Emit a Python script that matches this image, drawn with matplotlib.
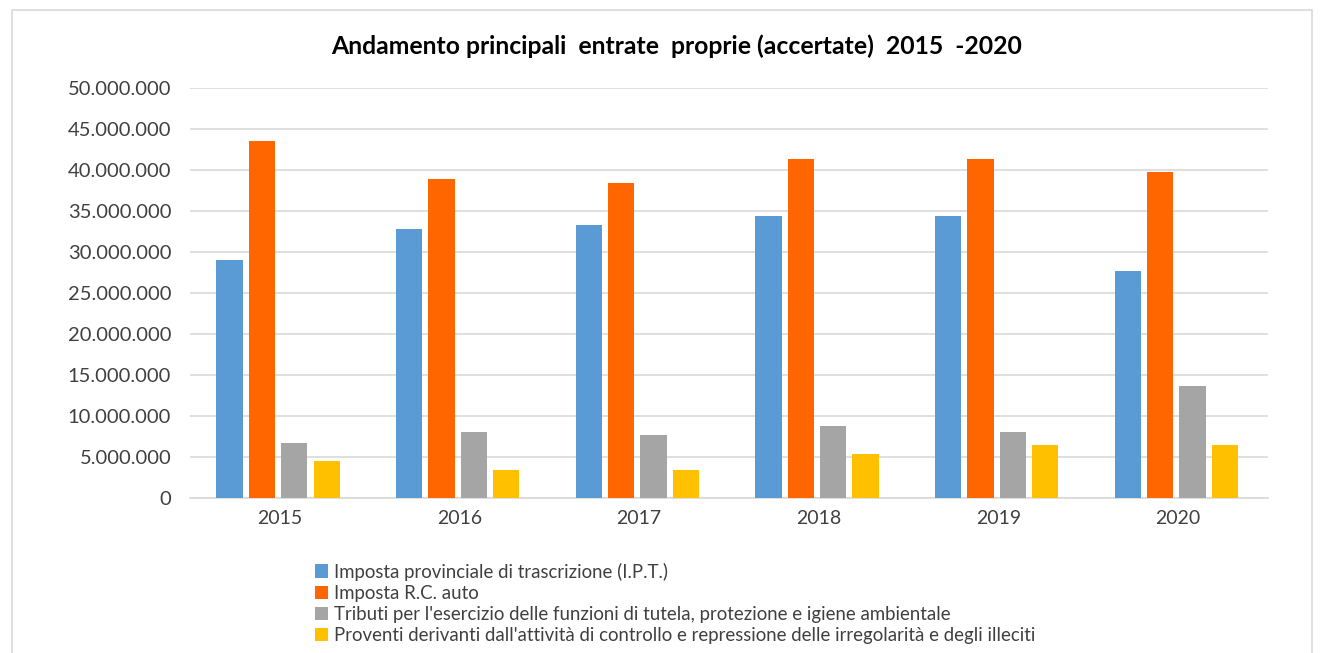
import numpy as np
import matplotlib.pyplot as plt
from matplotlib.patches import Rectangle
from matplotlib.ticker import FuncFormatter

plt.rcParams['font.family'] = ['Lato', 'DejaVu Sans']

# dati
anni = ["2015", "2016", "2017", "2018", "2019", "2020"]
serie = [
    "Imposta provinciale di trascrizione (I.P.T.)",
    "Imposta R.C. auto",
    "Tributi per l'esercizio delle funzioni di tutela, protezione e igiene ambientale",
    "Proventi derivanti dall'attività di controllo e repressione delle irregolarità e degli illeciti",
]
ipt = [29060000, 32860000, 33300000, 34400000, 34400000, 27700000]
rc_auto = [43550000, 38870000, 38460000, 41300000, 41300000, 39800000]
tributi = [6740000, 8090000, 7640000, 8790000, 8090000, 13650000]
proventi = [4500000, 3430000, 3430000, 5400000, 6500000, 6500000]
colori = ["#5B9BD5", "#FF6600", "#A5A5A5", "#FFC000"]

fig = plt.figure(figsize=(13.23, 6.53), dpi=100)
ax = fig.add_axes([0.1436, 0.2374, 0.8148, 0.6278])

x = np.arange(len(anni))
step = 0.18
w = 0.145
for i, (vals, lab, c) in enumerate(zip([ipt, rc_auto, tributi, proventi], serie, colori)):
    ax.bar(x + (i - 1.5) * step - 0.01, vals, width=w, color=c, label=lab, zorder=3)

ax.set_xlim(-0.5, len(anni) - 0.5)
ax.set_ylim(0, 50000000)
ax.set_yticks(np.arange(0, 50000001, 5000000))
ax.yaxis.set_major_formatter(FuncFormatter(lambda v, p: "0" if v == 0 else f"{int(v):,}".replace(",", ".")))
ax.set_xticks(x)
ax.set_xticklabels(anni)
ax.tick_params(length=0, labelsize=14, colors="#404040")
ax.tick_params(axis="x", pad=9)
ax.tick_params(axis="y", pad=13.5, labelsize=14.5)
ax.grid(axis="y", color="#D9D9D9", linewidth=1.2, zorder=0)
for s in ["top", "right", "left"]:
    ax.spines[s].set_visible(False)
ax.spines["bottom"].set_color("#D9D9D9")
ax.spines["bottom"].set_linewidth(1.2)

fig.text(0.5 + 15 / 1323, 1 - 46 / 653, "Andamento principali  entrate  proprie (accertate)  2015  -2020",
         ha="center", va="center", fontsize=17.8, fontweight="bold", color="#000000")

fig.legend(loc="upper left", bbox_to_anchor=(308 / 1323, 1 - 555 / 653), frameon=False,
           fontsize=13.4, handlelength=0.7, handleheight=0.7, handletextpad=0.3,
           labelspacing=0.22, borderaxespad=0, labelcolor="#404040")

# cornice
fig.add_artist(Rectangle((12 / 1323, -0.01), 1300 / 1323, 1 - 10 / 653 + 0.01,
                         transform=fig.transFigure, fill=False, edgecolor="#D9D9D9", linewidth=1.2))

plt.savefig("out.png")
